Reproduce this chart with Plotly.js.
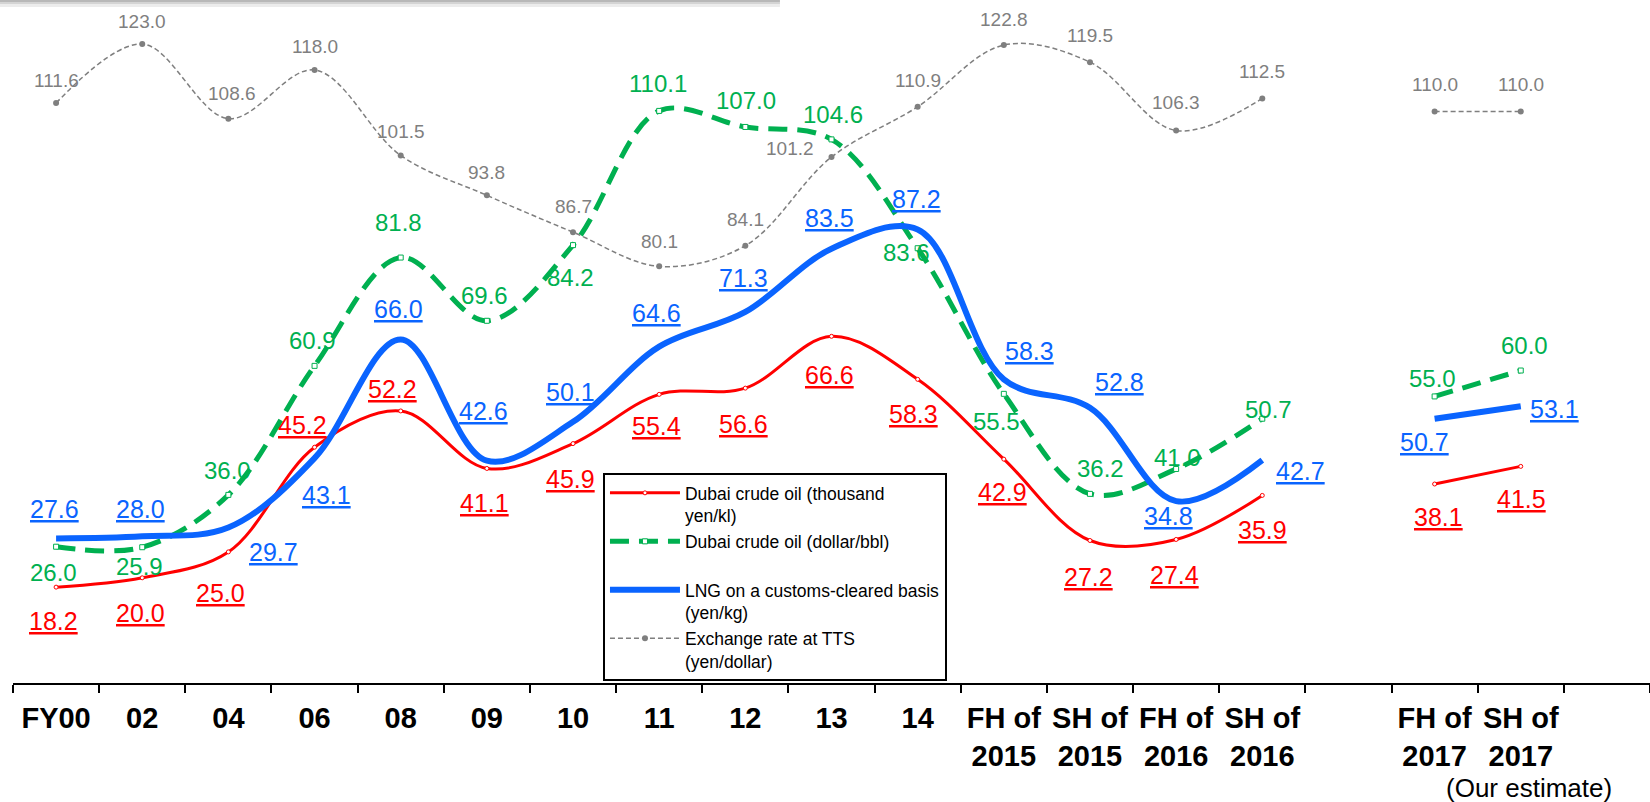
<!DOCTYPE html>
<html>
<head>
<meta charset="utf-8">
<script src="https://cdn.plot.ly/plotly-3.0.1.min.js"></script>
<style>
html,body{margin:0;padding:0;background:#fff;}
#chart{width:1650px;height:802px;}
</style>
</head>
<body>
<div id="chart"></div>
<script>
// ---- data ----
const categories = ['FY00','02','04','06','08','09','10','11','12','13','14',
  'FH of<br>2015','SH of<br>2015','FH of<br>2016','SH of<br>2016','','FH of<br>2017','SH of<br>2017'];
const crudeYen   = [18.2,20.0,25.0,45.2,52.2,41.1,45.9,55.4,56.6,66.6,58.3,42.9,27.2,27.4,35.9,null,38.1,41.5];
const crudeDollar= [26.0,25.9,36.0,60.9,81.8,69.6,84.2,110.1,107.0,104.6,83.6,55.5,36.2,41.0,50.7,null,55.0,60.0];
const lngYen     = [27.6,28.0,29.7,43.1,66.0,42.6,50.1,64.6,71.3,83.5,87.2,58.3,52.8,34.8,42.7,null,50.7,53.1];
const fxRate     = [111.6,123.0,108.6,118.0,101.5,93.8,86.7,80.1,84.1,101.2,110.9,122.8,119.5,106.3,112.5,null,110.0,110.0];
const seriesNames = ['Dubai crude oil (thousand<br>yen/kl)','Dubai crude oil (dollar/bbl)<br>&nbsp;',
  'LNG on a customs-cleared basis<br>(yen/kg)','Exchange rate at TTS<br>(yen/dollar)'];
const noteText = '(Our estimate)';

// ---- label offsets (px) ----
const redShift   = {x:[-3,-2,-8,-12,-8,-2,-3,-3,-2,-2,-4,-1,-1,-2,0,0,4,1],
                    y:[-34,-35,-41,22,22,-35,-35,-32,-36,-39,-35,-33,-37,-36,-35,0,-33,-33]};
const greenShift = {x:[-3,-3,-1,-2,-2,-2,-3,-1,1,1,-11,-7,11,1,6,0,-2,4],
                    y:[-26,-19,24,25,35,25,-32,27,26,25,-4,-28,25,11,9,0,18,25]};
const blueShift  = {x:[-2,-2,45,12,-2,-3,-3,-3,-2,-2,-1,26,30,-8,38,0,-10,34],
                    y:[29,27,-24,-37,30,50,30,34,34,31,31,28,26,-15,-11,0,-23,-3]};
const grayShift  = {x:[0,0,4,0,0,0,0,0,0,-42,0,0,0,0,0,0,0,0],
                    y:[23,23,25,23,24,23,26,25,26,9,26,26,27,28,27,0,27,27]};

const xs = categories.map((c,i)=>i);
const RED='#FF0000', GREEN='#00B050', BLUE='#0A64FF', GRAY='#7F7F7F';

const traces = [
 {x:xs,y:crudeYen,name:seriesNames[0],mode:'lines+markers',line:{color:RED,width:3,shape:'spline',smoothing:1},
  marker:{size:4,color:'#fff',line:{color:RED,width:1}},connectgaps:false},
 {x:xs,y:crudeDollar,name:seriesNames[1],mode:'lines+markers',line:{color:GREEN,width:5,dash:'19px,10px',shape:'spline',smoothing:1},
  marker:{size:5,symbol:'square',color:'#fff',line:{color:GREEN,width:1}},connectgaps:false},
 {x:xs,y:lngYen,name:seriesNames[2],mode:'lines',line:{color:BLUE,width:6,shape:'spline',smoothing:1},connectgaps:false},
 {x:xs,y:fxRate,name:seriesNames[3],mode:'lines+markers',line:{color:GRAY,width:1.5,dash:'5px,3px',shape:'spline',smoothing:1},
  marker:{size:6,color:GRAY},connectgaps:false}
];

const annotations = [];
function addLabels(vals, shift, color, size, under){
  vals.forEach((v,i)=>{
    if(v===null) return;
    annotations.push({x:i,y:v,xref:'x',yref:'y',text:v.toFixed(1),showarrow:false,
      xshift:shift.x[i],yshift:shift.y[i],
      font:{family:'Liberation Sans, Arial, sans-serif',size:size,color:color,lineposition:under?'under':'none'}});
  });
}
addLabels(fxRate, grayShift, GRAY, 19, false);
addLabels(crudeDollar, greenShift, GREEN, 24, false);
addLabels(lngYen, blueShift, BLUE, 25, true);
addLabels(crudeYen, redShift, RED, 25, true);
annotations.push({x:17.1,y:-0.179,xref:'x',yref:'paper',text:noteText,showarrow:false,
  font:{family:'Liberation Sans, Arial, sans-serif',size:26,color:'#000'}});

const layout = {
  width:1650,height:802,
  margin:{l:13,r:0,t:0,b:119},
  paper_bgcolor:'#fff',plot_bgcolor:'#fff',
  showlegend:true,
  legend:{x:0.3604,y:0.3075,xanchor:'left',yanchor:'top',bgcolor:'#fff',bordercolor:'#000',borderwidth:2,
    itemwidth:70,valign:'top',tracegroupgap:0,
    font:{family:'Liberation Sans, Arial, sans-serif',size:17.5,color:'#000'}},
  xaxis:{range:[-0.5,18.5],tickmode:'array',tickvals:xs,ticktext:categories,ticks:'',tickangle:0,
    ticklabelstandoff:8,
    showline:true,linecolor:'#000',linewidth:2,showgrid:false,zeroline:false,
    tickfont:{family:'Liberation Sans, Arial, sans-serif',size:29,color:'#000',weight:'bold'},
    minor:{tickmode:'linear',tick0:-0.5,dtick:1,ticks:'outside',ticklen:8,tickwidth:2,tickcolor:'#000',showgrid:false},
    fixedrange:true},
  yaxis:{range:[-0.3,131.5],visible:false,showgrid:false,zeroline:false,fixedrange:true},
  annotations:annotations,
  shapes:[
    {type:'rect',xref:'paper',yref:'paper',x0:-0.01,x1:0.4685,y0:1-2/683,y1:1,fillcolor:'#b8b8b8',line:{width:0},layer:'below'},
    {type:'rect',xref:'paper',yref:'paper',x0:-0.01,x1:0.4685,y0:1-4/683,y1:1-2/683,fillcolor:'#d4d4d4',line:{width:0},layer:'below'},
    {type:'rect',xref:'paper',yref:'paper',x0:-0.01,x1:0.4685,y0:1-7/683,y1:1-4/683,fillcolor:'#ececec',line:{width:0},layer:'below'}
  ]
};
Plotly.newPlot('chart',traces,layout,{displayModeBar:false,staticPlot:true});
</script>
</body>
</html>
